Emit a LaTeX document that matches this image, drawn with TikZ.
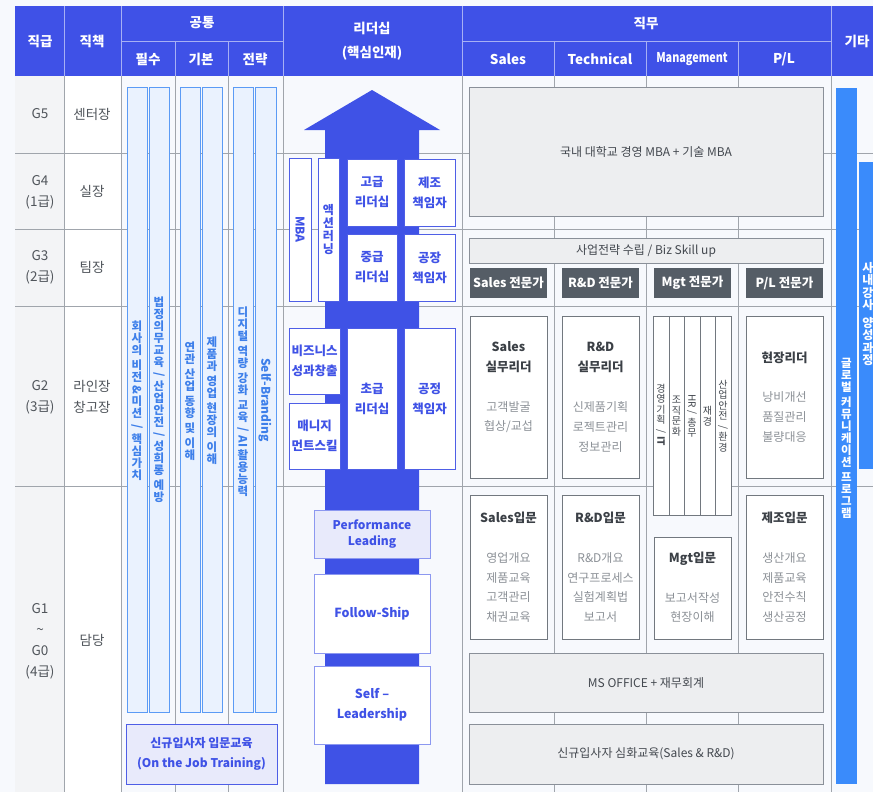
\documentclass[tikz,border=0pt]{standalone}
\usepackage{fontspec}
\setmainfont{Noto Sans CJK KR}
\definecolor{pagebg}{HTML}{F7F9FD}
\definecolor{lblbg}{HTML}{F3F4F6}
\definecolor{hdr}{HTML}{3F51E7}
\definecolor{hsepc}{HTML}{A7B0F4}
\definecolor{gridc}{HTML}{A0A5AC}
\definecolor{lbltxt}{HTML}{50555B}
\definecolor{barfill}{HTML}{EAF2FE}
\definecolor{barline}{HTML}{5B9BF5}
\definecolor{bartxt}{HTML}{3D7FEA}
\definecolor{arrowc}{HTML}{3F52E6}
\definecolor{aline}{HTML}{4E5EE6}
\definecolor{alight}{HTML}{8C98F0}
\definecolor{lav}{HTML}{E8EAFB}
\definecolor{gfill}{HTML}{EDEEF0}
\definecolor{gline}{HTML}{8A9099}
\definecolor{gtxt}{HTML}{43484F}
\definecolor{darkb}{HTML}{555D66}
\definecolor{wline}{HTML}{72787F}
\definecolor{ttltxt}{HTML}{3B4046}
\definecolor{itmtxt}{HTML}{8C9197}
\definecolor{globc}{HTML}{3A8BFB}
\newcommand{\mybox}[7]{\node[#6, minimum width={(#4)-(#2)}, minimum height={(#5)-(#3)}] (#1) at ({((#2)+(#4))/2},{((#3)+(#5))/2}) {#7};}
\newcommand{\rt}[1]{\rotatebox[origin=c]{-90}{#1}}
\tikzset{
  gridline/.style={draw=gridc, line width=0.9pt},
  hsep/.style={draw=hsepc, line width=0.9pt},
  hdrtxt/.style={text=white, font=\fontsize{13.5}{24}\selectfont\bfseries, align=center, inner sep=0pt},
  lbl/.style={text=lbltxt, font=\fontsize{13.5}{21}\selectfont, align=center, inner sep=0pt},
  bar/.style={draw=barline, fill=barfill, line width=1pt, inner sep=0pt, outer sep=0pt},
  bartext/.style={text=bartxt, font=\fontsize{11.5}{12}\selectfont\bfseries, align=center, inner sep=0pt},
  abox/.style={draw=aline, fill=white, line width=1pt, inner sep=0pt, outer sep=0pt, text=arrowc, font=\fontsize{12.5}{20}\selectfont\bfseries, align=center},
  lbox/.style={abox, draw=alight},
  lavbox/.style={abox, fill=lav},
  gbox/.style={draw=gline, fill=gfill, line width=1pt, inner sep=0pt, outer sep=0pt, text=gtxt, font=\fontsize{12}{14}\selectfont, align=center},
  dbox/.style={fill=darkb, inner sep=0pt, outer sep=0pt, text=white, font=\fontsize{12.5}{14}\selectfont\bfseries},
  wbox/.style={draw=wline, fill=white, line width=1pt, inner sep=0pt, outer sep=0pt},
  strip/.style={draw=wline, fill=white, line width=0.8pt, inner sep=0pt, outer sep=0pt},
  striptxt/.style={text=gtxt, font=\fontsize{10}{10.5}\selectfont, align=center, inner sep=0pt},
  ttl/.style={text=ttltxt, font=\fontsize{12.5}{20}\selectfont\bfseries, align=center, inner sep=0pt},
  itm/.style={text=itmtxt, font=\fontsize{12}{19.7}\selectfont, align=center, inner sep=0pt},
  globtxt/.style={text=white, font=\fontsize{11.5}{12}\selectfont\bfseries, align=center, inner sep=0pt},
}
\begin{document}
\begin{tikzpicture}[x=1pt,y=-1pt]
\useasboundingbox (0,0) rectangle (873,792);
\clip (0,0) rectangle (873,792);
\fill[pagebg] (0,0) rectangle (873,792);
\fill[lblbg] (15,76) rectangle (64,792);
\fill[white] (64,76) rectangle (121,792);
% body grid
\foreach \x in {64,121,175,228,283,462,554,646,738,831} \draw[gridline] (\x,76) -- (\x,792);
\foreach \y in {153,229,306,486} \draw[gridline] (15,\y) -- (873,\y);
% header
\fill[hdr] (15,6) rectangle (873,76);
\foreach \x in {64,121,283,462,831} \draw[hsep] (\x,6) -- (\x,76);
\draw[hsep] (121,41) -- (283,41);
\draw[hsep] (462,41) -- (831,41);
\foreach \x in {175,228,554,646,738} \draw[hsep] (\x,41) -- (\x,76);
\node[hdrtxt] (h1) at (40,41) {직급};
\node[hdrtxt] (h2) at (92,41) {직책};
\node[hdrtxt] (h3) at (202,23) {공통};
\node[hdrtxt] (h31) at (148,59) {필수};
\node[hdrtxt] (h32) at (201,59) {기본};
\node[hdrtxt] (h33) at (255,59) {전략};
\node[hdrtxt] (h4) at (372,41) {리더십\\(핵심인재)};
\node[hdrtxt] (h5) at (646,23) {직무};
\node[hdrtxt] (h51) at (508,59) {Sales};
\node[hdrtxt] (h52) at (600,59) {Technical};
\node[hdrtxt] (h53) at (692,59) {\scalebox{0.8}[1]{Management}};
\node[hdrtxt] (h54) at (784,59) {P/L};
\node[hdrtxt] (h6) at (857,41) {기타};
% row labels
\node[lbl] (g5) at (40,114) {G5};
\node[lbl] (r5) at (92,114) {센터장};
\node[lbl] (g4) at (40,192) {G4\\(1급)};
\node[lbl] (r4) at (92,191) {실장};
\node[lbl] (g3) at (40,267) {G3\\(2급)};
\node[lbl] (r3) at (92,267) {팀장};
\node[lbl] (g2) at (40,397) {G2\\(3급)};
\node[lbl] (r2) at (92,397) {라인장\\창고장};
\node[lbl] (g1) at (40,641) {G1\\\textasciitilde\\G0\\(4급)};
\node[lbl] (r1) at (92,640) {담당};
% common bars
\mybox{b1}{127}{88}{147}{712}{bar}{}
\mybox{b2}{149}{88}{169}{712}{bar}{}
\mybox{b3}{180}{88}{200}{712}{bar}{}
\mybox{b4}{202}{88}{222}{712}{bar}{}
\mybox{b5}{233}{88}{253}{712}{bar}{}
\mybox{b6}{255}{88}{276}{712}{bar}{}
\node[bartext] (t1) at (137,401) {회\\사\\의\\[3pt]비\\전\\\rt{\&}\\미\\션\\[1pt]\rt{/}\\[1pt]핵\\심\\가\\치};
\node[bartext] (t2) at (159,400) {법\\정\\의\\무\\교\\육\\\rt{/}\\산\\업\\안\\전\\\rt{/}\\성\\희\\롱\\[3pt]예\\방};
\node[bartext] (t3) at (190,401) {연\\관\\[3pt]산\\업\\[3pt]동\\향\\[3pt]및\\[3pt]이\\해};
\node[bartext] (t4) at (212,401) {제\\품\\과\\[3pt]영\\업\\[3pt]현\\장\\의\\[3pt]이\\해};
\node[bartext] (t5) at (243,402) {디\\지\\털\\[3pt]역\\량\\[3pt]강\\화\\[3pt]교\\육\\\rt{/}\\\rt{AI}\\[2pt]활\\용\\능\\력};
\node[bartext, font=\fontsize{12}{13}\selectfont\bfseries] (t6) at (265,400) {\rt{Self-Branding}};
\mybox{ojt}{126}{724}{277}{784}{lavbox, font=\fontsize{12}{20}\selectfont\bfseries}{신규입사자 입문교육\\(On the Job Training)}
% leadership arrow
\fill[arrowc] (325,784) -- (325,130) -- (304,130) -- (372,90) -- (440,130) -- (419,130) -- (419,784) -- cycle;
\mybox{mba}{289}{158}{311}{301}{abox, font=\fontsize{12}{14}\selectfont\bfseries}{\rt{MBA}}
\mybox{act}{318}{158}{339}{301}{abox, font=\fontsize{12}{13}\selectfont\bfseries}{액\\션\\러\\닝}
\mybox{hi}{347}{159}{397}{226}{abox}{고급\\리더십}
\mybox{mfg}{404}{159}{455}{226}{abox}{제조\\책임자}
\mybox{mid}{347}{234}{397}{301}{abox}{중급\\리더십}
\mybox{fac}{404}{234}{455}{301}{abox}{공장\\책임자}
\mybox{biz}{289}{328}{340}{394}{abox}{비즈니스\\성과창출}
\mybox{mgs}{289}{403}{340}{469}{abox}{매니지\\먼트스킬}
\mybox{low}{347}{328}{397}{469}{abox}{초급\\리더십}
\mybox{prc}{404}{328}{455}{469}{abox}{공정\\책임자}
\mybox{perf}{314}{510}{430}{558}{lavbox, draw=alight, font=\fontsize{12}{16}\selectfont\bfseries}{Performance\\Leading}
\mybox{fol}{314}{574}{430}{653}{lbox}{Follow-Ship}
\mybox{slf}{314}{666}{430}{744}{lbox}{Self --\\Leadership}
% job area
\mybox{jmba}{469}{88}{823}{216}{gbox}{국내 대학교 경영 MBA + 기술 MBA}
\mybox{jbiz}{469}{238}{823}{263}{gbox}{사업전략 수립 / Biz Skill up}
\mybox{d1}{470}{268}{547}{298}{dbox}{Sales 전문가}
\mybox{d2}{562}{268}{639}{298}{dbox}{R\&D 전문가}
\mybox{d3}{654}{268}{731}{298}{dbox}{Mgt 전문가}
\mybox{d4}{746}{268}{823}{298}{dbox}{P/L 전문가}
% G2 boxes
\mybox{w1}{470}{316}{547}{478}{wbox}{}
\mybox{w2}{562}{316}{639}{478}{wbox}{}
\mybox{w4}{746}{316}{823}{478}{wbox}{}
\mybox{s1}{653}{316}{669}{515}{strip}{}
\mybox{s2}{669}{316}{684}{515}{strip}{}
\mybox{s3}{684}{316}{700}{515}{strip}{}
\mybox{s4}{700}{316}{715}{515}{strip}{}
\mybox{s5}{715}{316}{731}{515}{strip}{}
\node[striptxt] (st1) at (661,415) {경\\영\\기\\획\\\rt{/}\\\rt{\bfseries IT}};
\node[striptxt] (st2) at (676.5,416) {조\\직\\문\\화};
\node[striptxt] (st3) at (692,416) {\rt{HR}\\\rt{/}\\총\\무};
\node[striptxt] (st4) at (707.5,416) {재\\경};
\node[striptxt] (st5) at (723,416) {산\\업\\안\\전\\\rt{/}\\환\\경};
\node[ttl] (w1t) at (508.5,357) {Sales\\실무리더};
\node[itm] (w1i) at (508.5,417) {고객발굴\\협상/교섭};
\node[ttl] (w2t) at (600.5,357) {R\&D\\실무리더};
\node[itm] (w2i) at (600.5,427) {신제품기획\\로젝트관리\\정보관리};
\node[ttl] (w4t) at (784.5,358) {현장리더};
\node[itm] (w4i) at (784.5,417) {낭비개선\\품질관리\\불량대응};
% G1 boxes
\mybox{e1}{470}{495}{547}{639}{wbox}{}
\mybox{e2}{562}{495}{639}{639}{wbox}{}
\mybox{e3}{654}{537}{731}{639}{wbox}{}
\mybox{e4}{746}{495}{823}{639}{wbox}{}
\node[ttl] (e1t) at (508.5,518) {Sales입문};
\node[itm] (e1i) at (508.5,587.5) {영업개요\\제품교육\\고객관리\\채권교육};
\node[ttl] (e2t) at (600.5,518) {R\&D입문};
\node[itm] (e2i) at (600.5,587.5) {R\&D개요\\연구프로세스\\실험계획법\\보고서};
\node[ttl] (e3t) at (692.5,559) {Mgt입문};
\node[itm] (e3i) at (692.5,607.5) {보고서작성\\현장이해};
\node[ttl] (e4t) at (784.5,518) {제조입문};
\node[itm] (e4i) at (784.5,587.5) {생산개요\\제품교육\\안전수칙\\생산공정};
\mybox{ms}{469}{653}{823}{712}{gbox}{MS OFFICE + 재무회계}
\mybox{adv}{469}{724}{823}{784}{gbox}{신규입사자 심화교육(Sales \& R\&D)}
% others
\mybox{glob}{836}{88}{857}{784}{fill=globc, inner sep=0pt, outer sep=0pt}{}
\node[globtxt] (globt) at (846.5,438) {글\\로\\벌\\[3pt]커\\뮤\\니\\케\\이\\션\\[3pt]프\\로\\그\\램};
\mybox{inst}{859}{162}{881}{469}{fill=globc, inner sep=0pt, outer sep=0pt}{}
\node[globtxt, font=\fontsize{12}{12.5}\selectfont\bfseries] (instt) at (868,314) {사\\내\\강\\사\\[5pt]양\\성\\과\\정};
\end{tikzpicture}
\end{document}
